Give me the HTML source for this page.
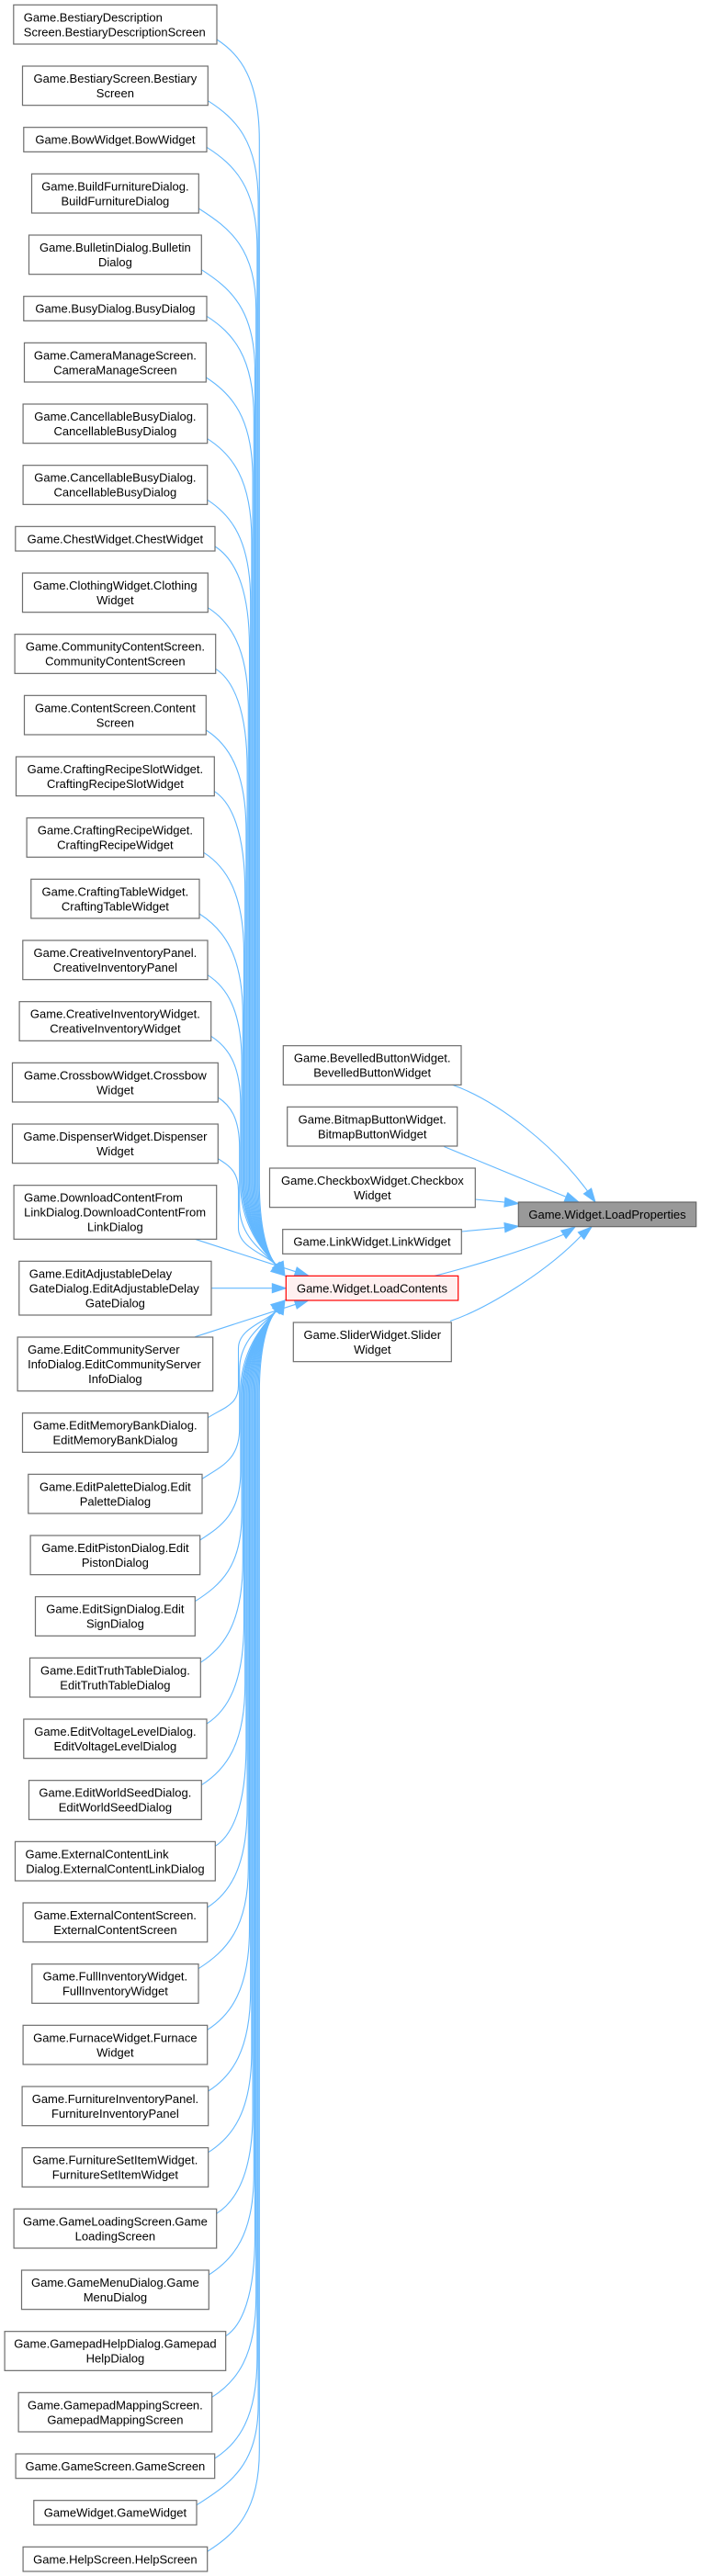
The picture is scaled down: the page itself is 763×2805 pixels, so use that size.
<!DOCTYPE html>
<html>
<head>
<meta charset="utf-8">
<style>
html,body{margin:0;padding:0;background:#fff;}
svg{display:block;}
text{font-family:"Liberation Sans",Arial,sans-serif;font-size:13px;fill:#000;}
.n{fill:#fff;stroke:#6e6e6e;stroke-width:1.2;}
.e{fill:none;stroke:#63b8ff;stroke-width:1.1;}
.a{fill:#63b8ff;stroke:#63b8ff;stroke-width:1;}
</style>
</head>
<body>
<svg width="763" height="2805" viewBox="0 0 763 2805" xmlns="http://www.w3.org/2000/svg">
<!-- upper edges -->
<g class="e">
<path d="M236,43 C261.5,59.2 282.3,87 282.3,153 L282.3,1287.5 C282.3,1337 290.8,1366 300.4,1377.5"/>
<path d="M226.3,109.7 C256.4,128.9 281.1,153.7 281.1,219.7 L281.1,1287.5 C281.1,1337 290.8,1366 300.4,1377.5"/>
<path d="M225,160.3 C255.2,179.5 279.9,204.3 279.9,270.3 L279.9,1287.5 C279.9,1337 290.8,1366 300.4,1377.5"/>
<path d="M216.3,227 C250.6,248.8 278.7,271 278.7,337 L278.7,1287.5 C278.7,1337 290.8,1366 300.4,1377.5"/>
<path d="M219.3,293.7 C251.3,314.1 277.5,337.7 277.5,403.7 L277.5,1287.5 C277.5,1337 290.8,1366 300.4,1377.5"/>
<path d="M225,344.3 C253.2,362.3 276.3,388.3 276.3,454.3 L276.3,1287.5 C276.3,1337 290.8,1366 300.4,1377.5"/>
<path d="M224.3,411 C252.2,428.8 275.1,455 275.1,521 L275.1,1287.5 C275.1,1337 290.8,1366 300.4,1377.5"/>
<path d="M225.7,477.7 C252.2,494.6 273.9,521.7 273.9,587.7 L273.9,1287.5 C273.9,1337 290.8,1366 300.4,1377.5"/>
<path d="M225.7,544.3 C251.6,560.8 272.7,588.3 272.7,654.3 L272.7,1287.5 C272.7,1337 290.8,1366 300.4,1377.5"/>
<path d="M234,595 C254.6,608.1 271.5,639 271.5,705 L271.5,1287.5 C271.5,1337 290.8,1366 300.4,1377.5"/>
<path d="M226.3,661.7 C250.5,677.1 270.3,705.7 270.3,771.7 L270.3,1287.5 C270.3,1337 290.8,1366 300.4,1377.5"/>
<path d="M234.7,728.3 C253.6,740.3 269.1,772.3 269.1,838.3 L269.1,1287.5 C269.1,1337 290.8,1366 300.4,1377.5"/>
<path d="M224.3,795 C248.3,810.3 267.9,839 267.9,905 L267.9,1287.5 C267.9,1337 290.8,1366 300.4,1377.5"/>
<path d="M233.3,861.7 C251.7,873.4 266.7,905.7 266.7,971.7 L266.7,1287.5 C266.7,1337 290.8,1366 300.4,1377.5"/>
<path d="M221.7,928.3 C245.8,943.6 265.5,972.3 265.5,1038.3 L265.5,1287.5 C265.5,1337 290.8,1366 300.4,1377.5"/>
<path d="M217,995 C243,1011.6 264.3,1039 264.3,1105 L264.3,1287.5 C264.3,1337 290.8,1366 300.4,1377.5"/>
<path d="M226,1061.7 C246.4,1074.7 263.1,1099.6 263.1,1156.4 L263.1,1287.5 C263.1,1337 290.8,1366 300.4,1377.5"/>
<path d="M229.7,1128.3 C247.4,1139.6 261.9,1158.2 261.9,1203.1 L261.9,1290.3 C261.9,1338.3 290.8,1366 300.4,1377.5"/>
<path d="M237.3,1195 C250.2,1203.2 260.7,1216.9 260.7,1249.8 L260.7,1313.6 C260.7,1348.7 290.8,1366 300.4,1377.5"/>
<path d="M237.3,1261.7 C249.5,1269.5 259.5,1275.6 259.5,1296.4 L259.5,1337 C259.5,1359.3 290.8,1366 300.4,1377.5"/>
<!-- straight ones -->
<path d="M212.3,1349.3 L321.7,1384.7"/>
<path d="M230,1402.7 L296.3,1402.7"/>
<path d="M212.3,1455.7 L321.7,1420.3"/>
<!-- lower edges -->
<path d="M226.3,1543.7 C244.6,1532.1 259.5,1529.7 259.5,1508.8 L259.5,1468.2 C259.5,1445.8 290.8,1439 300.4,1427.5"/>
<path d="M220,1610.3 C242.4,1596.1 260.7,1588.4 260.7,1555.5 L260.7,1491.5 C260.7,1456.3 290.8,1439 300.4,1427.5"/>
<path d="M217.7,1677 C242,1661.5 261.9,1647 261.9,1602.1 L261.9,1514.8 C261.9,1466.8 290.8,1439 300.4,1427.5"/>
<path d="M212.3,1743.7 C240.2,1725.9 263.1,1705.7 263.1,1648.8 L263.1,1517.5 C263.1,1468 290.8,1439 300.4,1427.5"/>
<path d="M218.3,1810.3 C243.6,1794.2 264.3,1766.3 264.3,1700.3 L264.3,1517.5 C264.3,1468 290.8,1439 300.4,1427.5"/>
<path d="M225,1877 C247.3,1862.8 265.5,1833 265.5,1767 L265.5,1517.5 C265.5,1468 290.8,1439 300.4,1427.5"/>
<path d="M219.3,1943.7 C245.4,1927.1 266.7,1899.7 266.7,1833.7 L266.7,1517.5 C266.7,1468 290.8,1439 300.4,1427.5"/>
<path d="M234.3,2010.3 C252.8,1998.5 267.9,1966.3 267.9,1900.3 L267.9,1517.5 C267.9,1468 290.8,1439 300.4,1427.5"/>
<path d="M225.7,2077 C249.6,2061.8 269.1,2033 269.1,1967 L269.1,1517.5 C269.1,1468 290.8,1439 300.4,1427.5"/>
<path d="M216,2143.7 C245.9,2124.7 270.3,2099.7 270.3,2033.7 L270.3,1517.5 C270.3,1468 290.8,1439 300.4,1427.5"/>
<path d="M225.7,2210.3 C250.9,2194.3 271.5,2166.3 271.5,2100.3 L271.5,1517.5 C271.5,1468 290.8,1439 300.4,1427.5"/>
<path d="M226.7,2277 C252,2260.9 272.7,2233 272.7,2167 L272.7,1517.5 C272.7,1468 290.8,1439 300.4,1427.5"/>
<path d="M226.7,2343.7 C252.7,2327.2 273.9,2299.7 273.9,2233.7 L273.9,1517.5 C273.9,1468 290.8,1439 300.4,1427.5"/>
<path d="M235.7,2410.3 C257.4,2396.5 275.1,2366.3 275.1,2300.3 L275.1,1517.5 C275.1,1468 290.8,1439 300.4,1427.5"/>
<path d="M227.3,2477 C254.3,2459.9 276.3,2433 276.3,2367 L276.3,1517.5 C276.3,1468 290.8,1439 300.4,1427.5"/>
<path d="M245.7,2543.7 C263.2,2532.6 277.5,2499.7 277.5,2433.7 L277.5,1517.5 C277.5,1468 290.8,1439 300.4,1427.5"/>
<path d="M230.7,2610.3 C257.1,2593.5 278.7,2566.3 278.7,2500.3 L278.7,1517.5 C278.7,1468 290.8,1439 300.4,1427.5"/>
<path d="M233.7,2677 C259.1,2660.8 279.9,2633 279.9,2567 L279.9,1517.5 C279.9,1468 290.8,1439 300.4,1427.5"/>
<path d="M214,2727.7 C250.9,2704.2 281.1,2683.7 281.1,2617.7 L281.1,1517.5 C281.1,1468 290.8,1439 300.4,1427.5"/>
<path d="M225.7,2778.3 C256.8,2758.5 282.3,2734.3 282.3,2668.3 L282.3,1517.5 C282.3,1468 290.8,1439 300.4,1427.5"/>
<!-- right side edges -->
<path d="M491.7,1181 C545,1200 605,1250 639.5,1297"/>
<path d="M483.3,1248.5 L616.1,1303.3"/>
<path d="M517.3,1306 L549.4,1309.1"/>
<path d="M502.3,1341 L549.4,1336.7"/>
<path d="M473,1389.3 C510,1380 570,1362 613.4,1344.2"/>
<path d="M490,1438.5 C530,1425 595,1385 632.5,1345.6"/>
</g>
<!-- arrowheads -->
<g class="a">
<polygon points="310,1389 296.6,1380.7 304.2,1374.3"/>
<polygon points="310,1389 294.8,1384.5 300.6,1376.3"/>
<polygon points="310,1389 299.2,1377.5 308.2,1373.3"/>
<polygon points="310,1416 296.6,1424.3 304.2,1430.7"/>
<polygon points="310,1416 294.8,1420.5 300.6,1428.7"/>
<polygon points="310,1416 299.2,1427.5 308.2,1431.7"/>
<polygon points="311.3,1402.7 296.3,1397.7 296.3,1407.7"/>
<polygon points="336,1389.3 320.2,1389.5 323.2,1379.9"/>
<polygon points="336,1415.7 320.2,1415.5 323.2,1425.1"/>
<polygon points="648,1309 635.4,1299.9 643.6,1294.1"/>
<polygon points="630,1309 614.2,1307.9 618,1298.7"/>
<polygon points="564.3,1310.5 548.9,1314.1 549.9,1304.1"/>
<polygon points="564.3,1335.3 549.9,1341.7 548.9,1331.7"/>
<polygon points="626,1336 616.1,1348.4 610.7,1340"/>
<polygon points="644,1336 635.7,1349.4 629.3,1341.8"/>
</g>

<!-- left column nodes -->
<rect class="n" x="14.8" y="5.33" width="221.2" height="42.67"/>
<text x="25.8" y="23.3">Game.BestiaryDescription</text>
<text x="25.8" y="39.3">Screen.BestiaryDescriptionScreen</text>

<rect class="n" x="24.5" y="72" width="201.8" height="42.67"/>
<text x="125.4" y="90" text-anchor="middle">Game.BestiaryScreen.Bestiary</text>
<text x="125.4" y="106" text-anchor="middle">Screen</text>

<rect class="n" x="25.8" y="138.67" width="199.2" height="26.67"/>
<text x="125.4" y="156.7" text-anchor="middle">Game.BowWidget.BowWidget</text>

<rect class="n" x="34.5" y="189.33" width="181.8" height="42.67"/>
<text x="125.4" y="207.3" text-anchor="middle">Game.BuildFurnitureDialog.</text>
<text x="125.4" y="223.3" text-anchor="middle">BuildFurnitureDialog</text>

<rect class="n" x="31.5" y="256" width="187.8" height="42.67"/>
<text x="125.4" y="274" text-anchor="middle">Game.BulletinDialog.Bulletin</text>
<text x="125.4" y="290" text-anchor="middle">Dialog</text>

<rect class="n" x="25.8" y="322.67" width="199.2" height="26.67"/>
<text x="125.4" y="340.7" text-anchor="middle">Game.BusyDialog.BusyDialog</text>

<rect class="n" x="26.5" y="373.33" width="197.8" height="42.67"/>
<text x="125.4" y="391.3" text-anchor="middle">Game.CameraManageScreen.</text>
<text x="125.4" y="407.3" text-anchor="middle">CameraManageScreen</text>

<rect class="n" x="25.1" y="440" width="200.6" height="42.67"/>
<text x="125.4" y="458" text-anchor="middle">Game.CancellableBusyDialog.</text>
<text x="125.4" y="474" text-anchor="middle">CancellableBusyDialog</text>

<rect class="n" x="25.1" y="506.67" width="200.6" height="42.67"/>
<text x="125.4" y="524.7" text-anchor="middle">Game.CancellableBusyDialog.</text>
<text x="125.4" y="540.7" text-anchor="middle">CancellableBusyDialog</text>

<rect class="n" x="16.8" y="573.33" width="217.2" height="26.67"/>
<text x="125.4" y="591.3" text-anchor="middle">Game.ChestWidget.ChestWidget</text>

<rect class="n" x="24.5" y="624" width="201.8" height="42.67"/>
<text x="125.4" y="642" text-anchor="middle">Game.ClothingWidget.Clothing</text>
<text x="125.4" y="658" text-anchor="middle">Widget</text>

<rect class="n" x="16.1" y="690.67" width="218.6" height="42.67"/>
<text x="125.4" y="708.7" text-anchor="middle">Game.CommunityContentScreen.</text>
<text x="125.4" y="724.7" text-anchor="middle">CommunityContentScreen</text>

<rect class="n" x="26.5" y="757.33" width="197.8" height="42.67"/>
<text x="125.4" y="775.3" text-anchor="middle">Game.ContentScreen.Content</text>
<text x="125.4" y="791.3" text-anchor="middle">Screen</text>

<rect class="n" x="17.5" y="824" width="215.8" height="42.67"/>
<text x="125.4" y="842" text-anchor="middle">Game.CraftingRecipeSlotWidget.</text>
<text x="125.4" y="858" text-anchor="middle">CraftingRecipeSlotWidget</text>

<rect class="n" x="29.1" y="890.67" width="192.6" height="42.67"/>
<text x="125.4" y="908.7" text-anchor="middle">Game.CraftingRecipeWidget.</text>
<text x="125.4" y="924.7" text-anchor="middle">CraftingRecipeWidget</text>

<rect class="n" x="33.8" y="957.33" width="183.2" height="42.67"/>
<text x="125.4" y="975.3" text-anchor="middle">Game.CraftingTableWidget.</text>
<text x="125.4" y="991.3" text-anchor="middle">CraftingTableWidget</text>

<rect class="n" x="24.8" y="1024" width="201.2" height="42.67"/>
<text x="125.4" y="1042" text-anchor="middle">Game.CreativeInventoryPanel.</text>
<text x="125.4" y="1058" text-anchor="middle">CreativeInventoryPanel</text>

<rect class="n" x="21.1" y="1090.67" width="208.6" height="42.67"/>
<text x="125.4" y="1108.7" text-anchor="middle">Game.CreativeInventoryWidget.</text>
<text x="125.4" y="1124.7" text-anchor="middle">CreativeInventoryWidget</text>

<rect class="n" x="13.5" y="1157.33" width="223.8" height="42.67"/>
<text x="125.4" y="1175.3" text-anchor="middle">Game.CrossbowWidget.Crossbow</text>
<text x="125.4" y="1191.3" text-anchor="middle">Widget</text>

<rect class="n" x="13.5" y="1224" width="223.8" height="42.67"/>
<text x="125.4" y="1242" text-anchor="middle">Game.DispenserWidget.Dispenser</text>
<text x="125.4" y="1258" text-anchor="middle">Widget</text>

<rect class="n" x="15.1" y="1290.67" width="220.6" height="58.67"/>
<text x="26.1" y="1308.7">Game.DownloadContentFrom</text>
<text x="26.1" y="1324.7">LinkDialog.DownloadContentFrom</text>
<text x="125.4" y="1340.7" text-anchor="middle">LinkDialog</text>

<rect class="n" x="20.8" y="1373.33" width="209.2" height="58.67"/>
<text x="31.8" y="1391.3">Game.EditAdjustableDelay</text>
<text x="31.8" y="1407.3">GateDialog.EditAdjustableDelay</text>
<text x="125.4" y="1423.3" text-anchor="middle">GateDialog</text>

<rect class="n" x="19.1" y="1456" width="212.6" height="58.67"/>
<text x="30.1" y="1474">Game.EditCommunityServer</text>
<text x="30.1" y="1490">InfoDialog.EditCommunityServer</text>
<text x="125.4" y="1506" text-anchor="middle">InfoDialog</text>

<rect class="n" x="24.5" y="1538.67" width="201.8" height="42.67"/>
<text x="125.4" y="1556.7" text-anchor="middle">Game.EditMemoryBankDialog.</text>
<text x="125.4" y="1572.7" text-anchor="middle">EditMemoryBankDialog</text>

<rect class="n" x="30.8" y="1605.33" width="189.2" height="42.67"/>
<text x="125.4" y="1623.3" text-anchor="middle">Game.EditPaletteDialog.Edit</text>
<text x="125.4" y="1639.3" text-anchor="middle">PaletteDialog</text>

<rect class="n" x="33.1" y="1672" width="184.6" height="42.67"/>
<text x="125.4" y="1690" text-anchor="middle">Game.EditPistonDialog.Edit</text>
<text x="125.4" y="1706" text-anchor="middle">PistonDialog</text>

<rect class="n" x="38.5" y="1738.67" width="173.8" height="42.67"/>
<text x="125.4" y="1756.7" text-anchor="middle">Game.EditSignDialog.Edit</text>
<text x="125.4" y="1772.7" text-anchor="middle">SignDialog</text>

<rect class="n" x="32.5" y="1805.33" width="185.8" height="42.67"/>
<text x="125.4" y="1823.3" text-anchor="middle">Game.EditTruthTableDialog.</text>
<text x="125.4" y="1839.3" text-anchor="middle">EditTruthTableDialog</text>

<rect class="n" x="25.8" y="1872" width="199.2" height="42.67"/>
<text x="125.4" y="1890" text-anchor="middle">Game.EditVoltageLevelDialog.</text>
<text x="125.4" y="1906" text-anchor="middle">EditVoltageLevelDialog</text>

<rect class="n" x="31.5" y="1938.67" width="187.8" height="42.67"/>
<text x="125.4" y="1956.7" text-anchor="middle">Game.EditWorldSeedDialog.</text>
<text x="125.4" y="1972.7" text-anchor="middle">EditWorldSeedDialog</text>

<rect class="n" x="16.5" y="2005.33" width="217.8" height="42.67"/>
<text x="27.5" y="2023.3">Game.ExternalContentLink</text>
<text x="125.4" y="2039.3" text-anchor="middle">Dialog.ExternalContentLinkDialog</text>

<rect class="n" x="25.1" y="2072" width="200.6" height="42.67"/>
<text x="125.4" y="2090" text-anchor="middle">Game.ExternalContentScreen.</text>
<text x="125.4" y="2106" text-anchor="middle">ExternalContentScreen</text>

<rect class="n" x="34.8" y="2138.67" width="181.2" height="42.67"/>
<text x="125.4" y="2156.7" text-anchor="middle">Game.FullInventoryWidget.</text>
<text x="125.4" y="2172.7" text-anchor="middle">FullInventoryWidget</text>

<rect class="n" x="25.1" y="2205.33" width="200.6" height="42.67"/>
<text x="125.4" y="2223.3" text-anchor="middle">Game.FurnaceWidget.Furnace</text>
<text x="125.4" y="2239.3" text-anchor="middle">Widget</text>

<rect class="n" x="24.1" y="2272" width="202.6" height="42.67"/>
<text x="125.4" y="2290" text-anchor="middle">Game.FurnitureInventoryPanel.</text>
<text x="125.4" y="2306" text-anchor="middle">FurnitureInventoryPanel</text>

<rect class="n" x="24.1" y="2338.67" width="202.6" height="42.67"/>
<text x="125.4" y="2356.7" text-anchor="middle">Game.FurnitureSetItemWidget.</text>
<text x="125.4" y="2372.7" text-anchor="middle">FurnitureSetItemWidget</text>

<rect class="n" x="15.1" y="2405.33" width="220.6" height="42.67"/>
<text x="125.4" y="2423.3" text-anchor="middle">Game.GameLoadingScreen.Game</text>
<text x="125.4" y="2439.3" text-anchor="middle">LoadingScreen</text>

<rect class="n" x="23.5" y="2472" width="203.8" height="42.67"/>
<text x="125.4" y="2490" text-anchor="middle">Game.GameMenuDialog.Game</text>
<text x="125.4" y="2506" text-anchor="middle">MenuDialog</text>

<rect class="n" x="5.1" y="2538.67" width="240.6" height="42.67"/>
<text x="125.4" y="2556.7" text-anchor="middle">Game.GamepadHelpDialog.Gamepad</text>
<text x="125.4" y="2572.7" text-anchor="middle">HelpDialog</text>

<rect class="n" x="20.1" y="2605.33" width="210.6" height="42.67"/>
<text x="125.4" y="2623.3" text-anchor="middle">Game.GamepadMappingScreen.</text>
<text x="125.4" y="2639.3" text-anchor="middle">GamepadMappingScreen</text>

<rect class="n" x="17.1" y="2672" width="216.6" height="26.67"/>
<text x="125.4" y="2690" text-anchor="middle">Game.GameScreen.GameScreen</text>

<rect class="n" x="36.8" y="2722.67" width="177.2" height="26.67"/>
<text x="125.4" y="2740.7" text-anchor="middle">GameWidget.GameWidget</text>

<rect class="n" x="25.1" y="2773.33" width="200.6" height="26.67"/>
<text x="125.4" y="2791.3" text-anchor="middle">Game.HelpScreen.HelpScreen</text>

<!-- middle column nodes -->
<rect class="n" x="308.3" y="1138.67" width="193.7" height="42.67"/>
<text x="405.2" y="1156.7" text-anchor="middle">Game.BevelledButtonWidget.</text>
<text x="405.2" y="1172.7" text-anchor="middle">BevelledButtonWidget</text>

<rect class="n" x="312.7" y="1205.33" width="185" height="42.67"/>
<text x="405.2" y="1223.3" text-anchor="middle">Game.BitmapButtonWidget.</text>
<text x="405.2" y="1239.3" text-anchor="middle">BitmapButtonWidget</text>

<rect class="n" x="293.5" y="1272" width="223.8" height="42.67"/>
<text x="405.4" y="1290" text-anchor="middle">Game.CheckboxWidget.Checkbox</text>
<text x="405.4" y="1306" text-anchor="middle">Widget</text>

<rect class="n" x="307.7" y="1338.67" width="194.6" height="26.67"/>
<text x="405" y="1356.7" text-anchor="middle">Game.LinkWidget.LinkWidget</text>

<rect x="311.3" y="1389.33" width="187.4" height="26.67" fill="#fff0f0" stroke="#ff0000" stroke-width="1.2"/>
<text x="405" y="1407.3" text-anchor="middle">Game.Widget.LoadContents</text>

<rect class="n" x="319.3" y="1440" width="172" height="42.67"/>
<text x="405.3" y="1458" text-anchor="middle">Game.SliderWidget.Slider</text>
<text x="405.3" y="1474" text-anchor="middle">Widget</text>

<!-- target node -->
<rect x="564.3" y="1309" width="193.4" height="26.67" fill="#999999" stroke="#666666" stroke-width="1.2"/>
<text x="661" y="1327" text-anchor="middle">Game.Widget.LoadProperties</text>
</svg>
</body>
</html>
